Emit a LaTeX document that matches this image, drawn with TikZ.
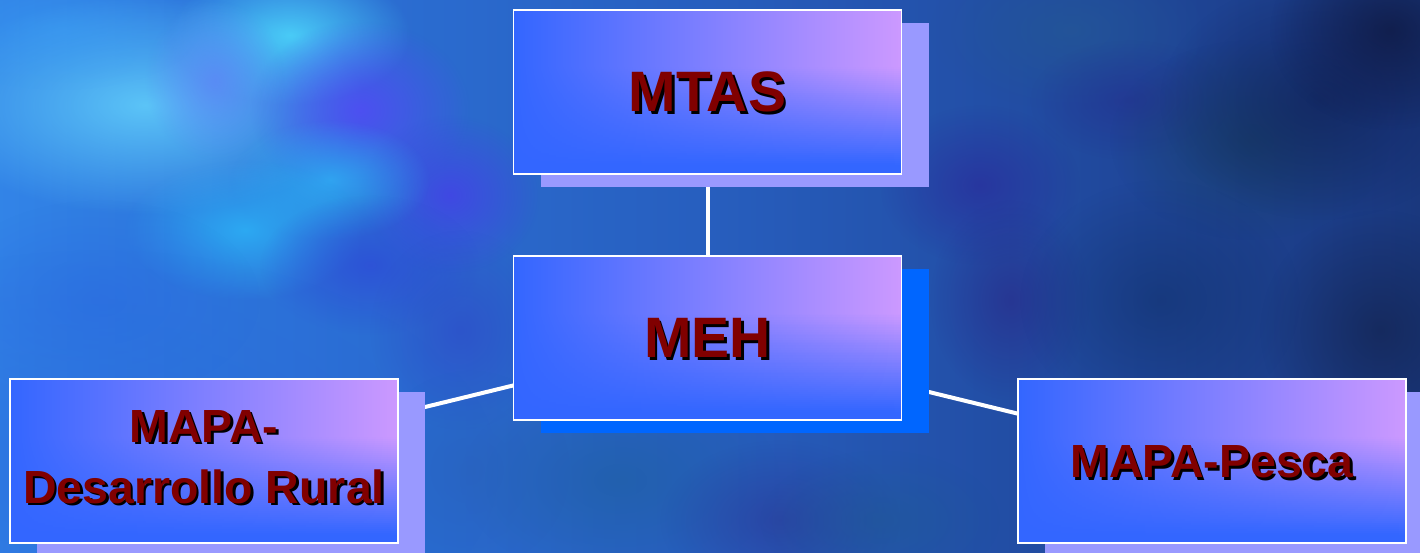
\documentclass[tikz,border=0pt]{standalone}
\usepackage{fontspec}
\setmainfont{Liberation Sans}
\usetikzlibrary{shadows,fadings,calc}
\definecolor{boxblue}{HTML}{3366FF}
\definecolor{boxpink}{HTML}{CC99FF}
\definecolor{shlav}{HTML}{9999FF}
\definecolor{shblue}{HTML}{0066FF}
\definecolor{txtred}{HTML}{800000}
\definecolor{bgA}{HTML}{2F7CF0}
\definecolor{bgB}{HTML}{3690F2}
\definecolor{bgC}{HTML}{2C72D8}
\definecolor{bgD}{HTML}{275EBE}
\definecolor{bgE}{HTML}{20489C}
\definecolor{bgF}{HTML}{1A387E}
\definecolor{bgG}{HTML}{13265E}
\definecolor{bgH}{HTML}{0F1A45}
\pgfdeclarehorizontalshading{bgh}{100bp}{color(0bp)=(bgA); color(18bp)=(bgB); color(35bp)=(bgC); color(50bp)=(bgD); color(64bp)=(bgE); color(75bp)=(bgF); color(88bp)=(bgG); color(100bp)=(bgH)}
\tikzfading[name=blob, inner color=transparent!0, outer color=transparent!100]
\pgfdeclarelayer{bg}
\pgfdeclarelayer{lines}
\pgfsetlayers{bg,lines,main}
\newcommand\bgblob[6]{\definecolor{blobcol}{HTML}{#5}\fill[fill=blobcol, fill opacity=#6, path fading=blob] (#1,#2) ellipse [x radius={2*#3pt}, y radius={2*#4pt}];}
\newcommand\boxstrips{%
  \foreach \i in {0,...,81}{%
    \pgfmathsetmacro\fa{\i/82}%
    \pgfmathsetmacro\fb{(\i+1.5)/82}%
    \pgfmathtruncatemacro\tp{max(0,min(100,100*(1-(\fa-0.35)/0.6)))}%
    \shade[left color=boxblue, right color=boxpink!\tp!boxblue]
      ($(path picture bounding box.north west)!\fa!(path picture bounding box.south west)$) rectangle
      ($(path picture bounding box.north east)!\fb!(path picture bounding box.south east)$);%
  }}
\begin{document}
\begin{tikzpicture}[x=1pt,y=-1pt,
  box/.style={draw=white, line width=1.5pt, minimum width=388pt, minimum height=164pt,
    inner sep=0pt, fill=boxblue, path picture={\boxstrips}},
  lavshadow/.style={drop shadow={shadow xshift=27pt, shadow yshift=-13pt, fill=shlav, opacity=1}},
  blueshadow/.style={drop shadow={shadow xshift=27pt, shadow yshift=-13pt, fill=shblue, opacity=1}},
  conn/.style={draw=white, line width=4pt},
  bigtxt/.style={font=\fontsize{57}{62}\bfseries\selectfont, inner sep=0pt},
  smalltxt/.style={font=\fontsize{46.5}{61}\bfseries\selectfont, align=center, inner sep=0pt},
  redtxt/.style={text=txtred},
  blacktxt/.style={text=black}]
\useasboundingbox (0,0) rectangle (1420,553);
\begin{pgfonlayer}{bg}
\shade[shading=bgh] (0,0) rectangle (1420,553);
\bgblob{100}{470}{200}{110}{2862D8}{0.5}
\bgblob{145}{105}{110}{55}{60CCFA}{0.9}
\bgblob{290}{35}{60}{35}{4CD4FA}{0.9}
\bgblob{60}{30}{70}{30}{3AA0F5}{0.5}
\bgblob{215}{80}{35}{40}{6080F8}{0.7}
\bgblob{360}{110}{55}{45}{5548F8}{0.8}
\bgblob{450}{195}{45}{40}{4540E8}{0.8}
\bgblob{330}{180}{50}{30}{30B2F6}{0.8}
\bgblob{245}{230}{60}{35}{2CB6F8}{0.8}
\bgblob{370}{265}{55}{35}{2E48D8}{0.7}
\bgblob{100}{300}{80}{50}{2A6AE0}{0.6}
\bgblob{460}{330}{45}{50}{3040C8}{0.5}
\bgblob{1070}{30}{70}{40}{245896}{0.7}
\bgblob{1130}{100}{50}{30}{243090}{0.6}
\bgblob{980}{185}{50}{40}{2A2C9C}{0.7}
\bgblob{1010}{300}{40}{50}{2A2888}{0.6}
\bgblob{1250}{140}{70}{50}{17405E}{0.6}
\bgblob{1320}{100}{80}{60}{0F1D55}{0.6}
\bgblob{1390}{30}{60}{50}{0E163C}{0.7}
\bgblob{1160}{300}{70}{60}{0F2E66}{0.5}
\bgblob{1380}{330}{60}{60}{122048}{0.6}
\bgblob{620}{480}{80}{50}{1E5FA0}{0.6}
\bgblob{780}{520}{60}{40}{2C3898}{0.6}
\bgblob{880}{520}{60}{35}{1E5A92}{0.5}
\bgblob{470}{470}{50}{50}{2860B8}{0.5}
\end{pgfonlayer}
% boxes
\node[box, lavshadow] (mtas) at (707.5,92) {};
\node[box, blueshadow] (meh) at (707.5,338) {};
\node[box, lavshadow] (rural) at (204,461) {};
\node[box, lavshadow] (pesca) at (1212,461) {};
% connectors
\begin{pgfonlayer}{lines}
\draw[conn] (mtas.center) -- (meh.center);
\draw[conn] (meh.center) -- (rural.center);
\draw[conn] (meh.center) -- (pesca.center);
\end{pgfonlayer}
% text shadows
\node[bigtxt, blacktxt] (mtassh) at ([shift={(2.5pt,-2.5pt)}]mtas.center) {MTAS};
\node[bigtxt, blacktxt] (mehsh) at ([shift={(2.5pt,-2.5pt)}]meh.center) {MEH};
\node[smalltxt, blacktxt] (ruralsh) at ([shift={(2.5pt,1.5pt)}]rural.center) {MAPA-\\Desarrollo Rural};
\node[smalltxt, blacktxt] (pescash) at ([shift={(2.5pt,-3.5pt)}]pesca.center) {MAPA-Pesca};
% texts
\node[bigtxt, redtxt] (mtast) at (mtas.center) {MTAS};
\node[bigtxt, redtxt] (meht) at (meh.center) {MEH};
\node[smalltxt, redtxt] (ruralt) at ([shift={(0pt,4pt)}]rural.center) {MAPA-\\Desarrollo Rural};
\node[smalltxt, redtxt] (pescat) at ([shift={(0pt,-1pt)}]pesca.center) {MAPA-Pesca};
\end{tikzpicture}
\end{document}
